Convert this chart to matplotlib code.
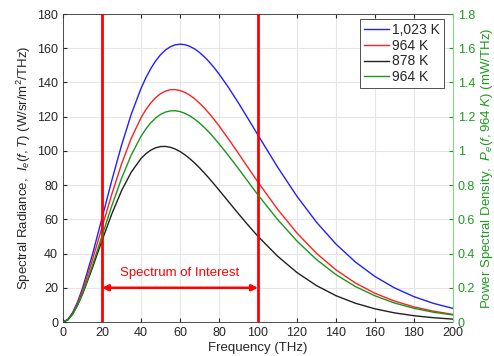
import numpy as np
import matplotlib
matplotlib.use('Agg')
import matplotlib.pyplot as plt

plt.rcParams['font.family'] = ['Liberation Sans', 'DejaVu Sans']
plt.rcParams['mathtext.fontset'] = 'custom'
plt.rcParams['mathtext.it'] = 'Liberation Sans:italic'
plt.rcParams['mathtext.rm'] = 'Liberation Sans'

# Frequency samples (THz)
freq = [0, 2.5, 5, 7.5, 10, 15, 20, 25, 30, 35,
        40, 42.5, 45, 47.5, 50, 52.5, 55, 57.5, 60, 62.5, 65, 67.5, 70, 72.5, 75, 77.5, 80,
        85, 90, 95, 100, 110, 120, 130, 140, 150, 160, 170, 180, 190, 200]

# Spectral radiance (W/sr/m^2/THz)
rad_1023 = [0, 1.48, 5.58, 11.80, 19.71, 38.98, 60.67, 82.61, 103.23, 121.42,
            136.50, 142.75, 148.11, 152.59, 156.20, 158.94, 160.86, 162.00, 162.40, 162.10,
            161.15, 159.62, 157.55, 155.00, 152.03, 148.68, 145.00,
            136.87, 128.00, 118.69, 109.23, 90.63, 73.44, 58.33, 45.54, 35.02, 26.58,
            19.94, 14.80, 10.89, 7.94]
rad_964 = [0, 1.39, 5.22, 10.99, 18.28, 35.86, 55.30, 74.57, 92.24, 107.35,
           119.35, 124.11, 128.03, 131.12, 133.42, 134.94, 135.74, 135.86, 135.33, 134.23,
           132.60, 130.49, 127.96, 125.07, 121.86, 118.38, 114.68,
           106.80, 98.52, 90.11, 81.78, 65.98, 51.98, 40.13, 30.45, 22.76, 16.78,
           12.24, 8.83, 6.31, 4.47]
rad_878 = [0, 1.26, 4.69, 9.82, 16.22, 31.34, 47.57, 63.08, 76.67, 87.59,
           95.52, 98.35, 100.44, 101.83, 102.54, 102.63, 102.14, 101.13, 99.66, 97.77,
           95.51, 92.95, 90.13, 87.10, 83.90, 80.57, 77.16,
           70.20, 63.26, 56.51, 50.08, 38.52, 28.92, 21.27, 15.38, 10.95, 7.69,
           5.34, 3.67, 2.50, 1.69]

# Power spectral density at 964 K (mW/THz), right axis
psd_964 = [0, 0.013, 0.047, 0.100, 0.166, 0.326, 0.503, 0.678, 0.839, 0.976,
           1.085, 1.128, 1.164, 1.192, 1.213, 1.227, 1.234, 1.235, 1.230, 1.220,
           1.205, 1.186, 1.163, 1.137, 1.108, 1.076, 1.042,
           0.971, 0.896, 0.819, 0.743, 0.600, 0.473, 0.365, 0.277, 0.207, 0.153,
           0.111, 0.080, 0.057, 0.041]

band = [20, 100]

txt = '#262626'
green = '#1f9a1f'

fig = plt.figure(figsize=(4.94, 3.56), dpi=100)
ax = fig.add_axes([0.1275, 0.0955, 0.7895, 0.865])
ax2 = ax.twinx()

l1, = ax.plot(freq, rad_1023, color='#2020ff', lw=1.0, label='1,023 K')
l2, = ax.plot(freq, rad_964, color='#ff2020', lw=1.0, label='964 K')
l3, = ax.plot(freq, rad_878, color='#202020', lw=1.0, label='878 K')
l4, = ax2.plot(freq, psd_964, color='#1a961a', lw=1.0, label='964 K')

# Spectrum of interest markers
for b in band:
    ax.axvline(b, color='#ff0000', lw=2.0, zorder=5)
ax.annotate('', xy=(band[0], 20), xytext=(band[1], 20),
            arrowprops=dict(arrowstyle='<|-|>', color='#ff0000', lw=1.8,
                            mutation_scale=9, shrinkA=0, shrinkB=0), zorder=6)
ax.text(sum(band) / 2, 28.8, 'Spectrum of Interest', color='#ff0000',
        fontsize=9.5, ha='center', va='center')

ax.set_xlim(0, 200)
ax.set_ylim(0, 180)
ax2.set_ylim(0, 1.8)
ax.set_xticks(np.arange(0, 201, 20))
ax.set_yticks(np.arange(0, 181, 20))
ax2.set_yticks(np.arange(0, 1.81, 0.2))
ax2.set_yticklabels(['0', '0.2', '0.4', '0.6', '0.8', '1', '1.2', '1.4', '1.6', '1.8'])

ax.grid(True, color='#e6e6e6', lw=0.8)
ax.set_axisbelow(True)

ax.tick_params(direction='in', length=3, labelsize=9, colors=txt, top=True)
ax.tick_params(axis='y', right=False)
ax2.tick_params(direction='in', length=3, labelsize=9, colors=green)

for s in ['left', 'bottom', 'top']:
    ax.spines[s].set_color('#333333')
    ax.spines[s].set_linewidth(0.6)
ax.spines['right'].set_visible(False)
ax2.spines['right'].set_color('#8fd08f')
ax2.spines['right'].set_linewidth(0.8)
for s in ['left', 'bottom', 'top']:
    ax2.spines[s].set_visible(False)

ax.set_xlabel('Frequency (THz)', fontsize=9.5, color=txt, labelpad=2)
ax.set_ylabel(r'Spectral Radiance,  $I_e(f, T)$ (W/sr/m$^2$/THz)', fontsize=9.5,
              color=txt, labelpad=3)
ax2.set_ylabel(r'Power Spectral Density,  $P_e(f, 964\ K)$ (mW/THz)', fontsize=9.5,
               color=green, labelpad=3)

leg = ax2.legend(handles=[l1, l2, l3, l4], loc='upper right',
                 bbox_to_anchor=(0.977, 0.984), borderaxespad=0, fontsize=10,
                 fancybox=False, framealpha=1, edgecolor='#333333',
                 handlelength=1.8, handletextpad=0.2, borderpad=0.3,
                 labelspacing=0.12)
leg.get_frame().set_linewidth(0.6)
for t in leg.get_texts():
    t.set_color(txt)

fig.savefig('out.png', dpi=100)
